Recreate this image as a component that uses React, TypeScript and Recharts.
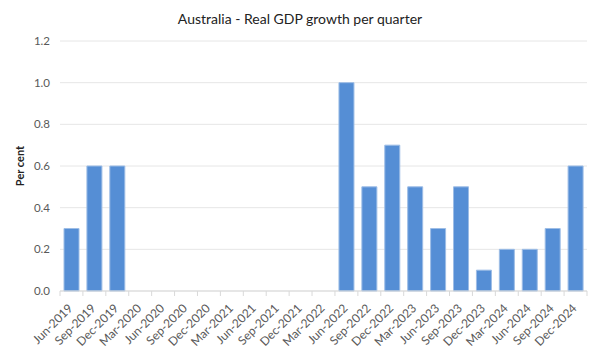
import React from "react";
import { BarChart, Bar, XAxis, YAxis, CartesianGrid, Label } from "recharts";

const quarters = [
  "Jun-2019", "Sep-2019", "Dec-2019", "Mar-2020", "Jun-2020", "Sep-2020",
  "Dec-2020", "Mar-2021", "Jun-2021", "Sep-2021", "Dec-2021", "Mar-2022",
  "Jun-2022", "Sep-2022", "Dec-2022", "Mar-2023", "Jun-2023", "Sep-2023",
  "Dec-2023", "Mar-2024", "Jun-2024", "Sep-2024", "Dec-2024",
];
const growth: (number | null)[] = [
  0.3, 0.6, 0.6, null, null, null,
  null, null, null, null, null, null,
  1.0, 0.5, 0.7, 0.5, 0.3, 0.5,
  0.1, 0.2, 0.2, 0.3, 0.6,
];
const yTicks = [0, 0.2, 0.4, 0.6, 0.8, 1.0, 1.2];

const data = quarters.map((q, i) => ({ quarter: q, growth: growth[i] }));

const W = 600;
const H = 355;
const M = { top: 41, right: 13, left: 0, bottom: 0 };
const X_AXIS_H = 64;
const Y_AXIS_W = 60;
const FONT = "Lato, 'Open Sans', sans-serif";

const step = (W - M.right - Y_AXIS_W) / quarters.length;

const XTick = (props: any) => {
  const { x, y, payload, index } = props;
  const isLast = index === quarters.length - 1;
  return (
    <g>
      <line x1={x - step / 2} x2={x - step / 2} y1={y - 8} y2={y - 3} stroke="#D9D9D9" />
      {isLast && (
        <line x1={x + step / 2} x2={x + step / 2} y1={y - 8} y2={y - 3} stroke="#D9D9D9" />
      )}
      <text
        x={x + 2}
        y={y + 10}
        textAnchor="end"
        fontSize={12}
        fill="#595959"
        fontFamily={FONT}
        transform={`rotate(-45, ${x + 2}, ${y + 10})`}
      >
        {payload.value}
      </text>
    </g>
  );
};

export default function App() {
  return (
    <div style={{ position: "absolute", left: 0, top: 0, width: W, height: H, background: "#fff" }}>
      <div
        style={{
          position: "absolute",
          top: 10,
          left: 0,
          width: W,
          textAlign: "center",
          fontFamily: FONT,
          fontSize: 14,
          color: "#222",
        }}
      >
        Australia - Real GDP growth per quarter
      </div>
      <BarChart width={W} height={H} data={data} margin={M} barSize={15}>
        <CartesianGrid vertical={false} stroke="#E6E6E6" />
        <XAxis
          dataKey="quarter"
          interval={0}
          tick={<XTick />}
          tickLine={false}
          axisLine={{ stroke: "#D9D9D9" }}
          height={X_AXIS_H}
        />
        <YAxis
          width={Y_AXIS_W}
          domain={[0, 1.2]}
          ticks={yTicks}
          tickFormatter={(v: number) => v.toFixed(1)}
          axisLine={false}
          tickLine={false}
          tick={{ fontSize: 11.5, fill: "#595959", fontFamily: FONT }}
          tickMargin={4}
        >
          <Label
            value="Per cent"
            angle={-90}
            position="insideLeft"
            offset={20}
            style={{ fontSize: 11, fontWeight: "bold", fill: "#222", fontFamily: FONT, textAnchor: "middle" }}
          />
        </YAxis>
        <Bar dataKey="growth" fill="#558ED5" stroke="#9DBDE6" strokeWidth={1} isAnimationActive={false} />
      </BarChart>
    </div>
  );
}
